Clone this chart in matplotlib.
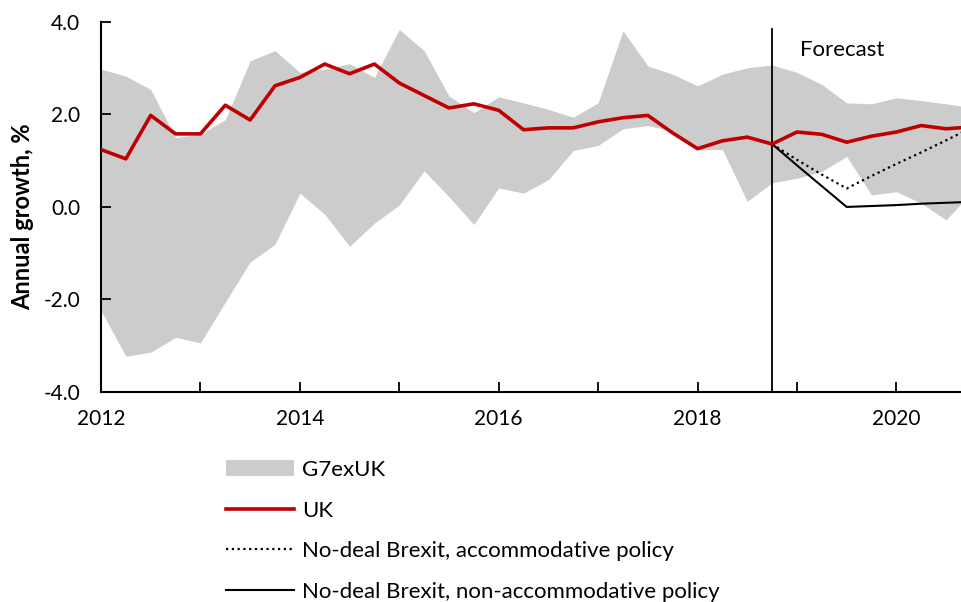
import matplotlib
matplotlib.use("Agg")
import matplotlib.pyplot as plt
import numpy as np

# Quarterly dates, 2012 Q1 to 2020 Q4
dates = [2012 + q / 4 for q in range(36)]

# UK annual growth, %
ukGrowth = [1.24, 1.04, 1.98, 1.58, 1.58, 2.20, 1.88, 2.62, 2.80, 3.09, 2.88, 3.09,
            2.68, 2.41, 2.14, 2.23, 2.09, 1.67, 1.71, 1.71, 1.84, 1.93, 1.98, 1.60,
            1.26, 1.43, 1.51, 1.36, 1.62, 1.57, 1.40, 1.53, 1.62, 1.76, 1.69, 1.73]

# G7 excluding UK range (max / min)
g7Upper = [2.98, 2.83, 2.54, 1.50, 1.57, 1.89, 3.16, 3.38, 2.91, 2.98, 3.10, 2.80,
           3.84, 3.38, 2.40, 2.04, 2.38, 2.25, 2.11, 1.94, 2.25, 3.81, 3.05, 2.87,
           2.62, 2.87, 3.01, 3.07, 2.91, 2.65, 2.25, 2.23, 2.36, 2.30, 2.23, 2.15]
g7Lower = [-2.24, -3.23, -3.14, -2.82, -2.94, -2.06, -1.19, -0.81, 0.30, -0.16, -0.85, -0.35,
           0.04, 0.78, 0.22, -0.38, 0.41, 0.30, 0.59, 1.22, 1.33, 1.69, 1.76, 1.64,
           1.24, 1.24, 0.12, 0.52, 0.62, 0.77, 1.09, 0.26, 0.33, 0.08, -0.28, 0.30]

# No-deal Brexit scenarios, from 2018 Q4
scenarioDates = dates[27:]
accommodative = [1.36, 1.02, 0.70, 0.40, 0.67, 0.93, 1.18, 1.44, 1.71]
nonAccommodative = [1.36, 0.90, 0.45, 0.00, 0.02, 0.04, 0.07, 0.09, 0.11]

forecastStart = 2018.75

plt.rcParams["font.family"] = ["Lato", "DejaVu Sans"]

fig = plt.figure(figsize=(9.62, 6.02), dpi=100)
ax = fig.add_axes([0.105, 0.349, 0.895, 0.6145])

ax.fill_between(dates, g7Lower, g7Upper, color="#cccccc", linewidth=0, label="G7exUK")
ax.plot(dates, ukGrowth, color="#c00000", linewidth=2.6, label="UK", zorder=3)
ax.plot(scenarioDates, accommodative, color="black", linestyle=(0, (1, 1.6)), linewidth=1.6,
        label="No-deal Brexit, accommodative policy", zorder=2)
ax.plot(scenarioDates, nonAccommodative, color="black", linewidth=1.5,
        label="No-deal Brexit, non-accommodative policy", zorder=2)

ax.axvline(forecastStart, ymin=0, ymax=0.98, color="black", linewidth=1.3)
ax.text(2019.03, 3.39, "Forecast", fontsize=16, va="center", ha="left")

ax.set_xlim(2012, 2020.66)
ax.set_ylim(-4, 4)
ax.set_yticks([-4, -2, 0, 2, 4])
ax.set_yticklabels(["-4.0", "-2.0", "0.0", "2.0", "4.0"])
ax.set_xticks(list(range(2012, 2021)))
ax.set_xticklabels([str(y) if y % 2 == 0 else "" for y in range(2012, 2021)])
ax.tick_params(direction="in", length=7, width=1.3, labelsize=15)
ax.tick_params(axis="x", pad=12)
ax.tick_params(axis="y", pad=15)

for side in ["top", "right"]:
    ax.spines[side].set_visible(False)
for side in ["left", "bottom"]:
    ax.spines[side].set_linewidth(1.5)

# y label placed in figure coordinates
fig.text(0.023, 0.64, "Annual growth, %", fontsize=17, fontweight="bold",
         rotation=90, ha="center", va="center")

fig.legend(loc="upper left", bbox_to_anchor=(0.235, 0.236), frameon=False, fontsize=16,
           handlelength=3.05, handletextpad=0.36, labelspacing=0.93,
           borderpad=0, borderaxespad=0)

fig.savefig("out.png", dpi=100)
